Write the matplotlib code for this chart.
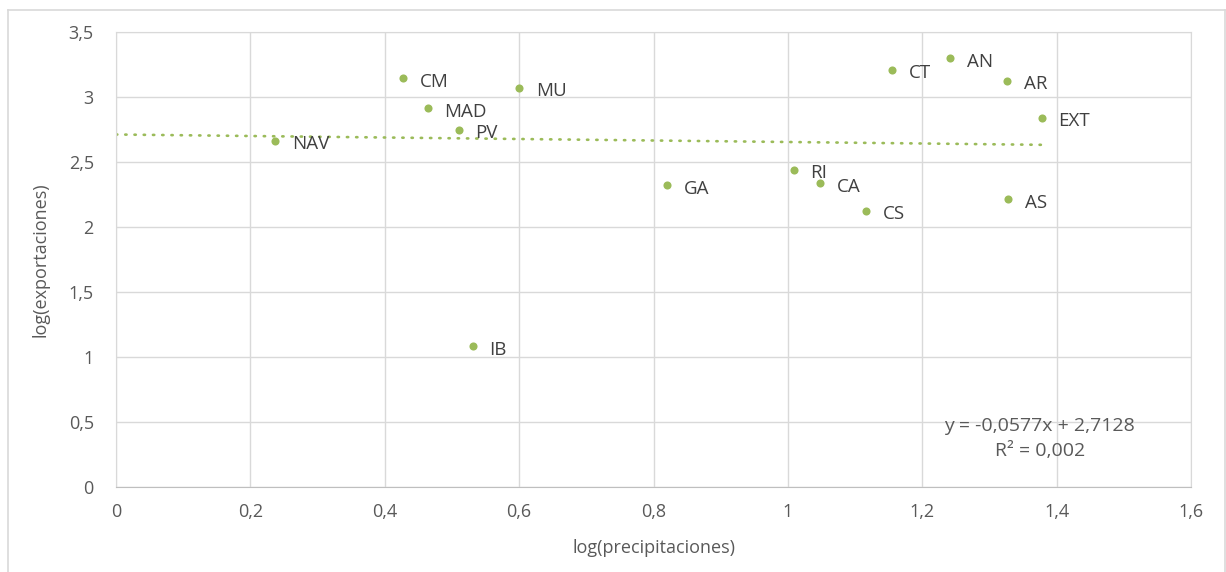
import matplotlib.pyplot as plt
from matplotlib.lines import Line2D
import numpy as np

regions = ['NAV', 'CM', 'MAD', 'PV', 'MU', 'IB', 'GA', 'RI', 'CA', 'CS',
           'CT', 'AN', 'AR', 'EXT', 'AS']
log_precip = [0.237, 0.427, 0.464, 0.510, 0.600, 0.531, 0.820, 1.009, 1.048, 1.116,
              1.155, 1.242, 1.326, 1.378, 1.328]
log_export = [2.665, 3.146, 2.915, 2.751, 3.072, 1.080, 2.321, 2.442, 2.336, 2.126,
              3.211, 3.300, 3.128, 2.842, 2.213]

slope, intercept, r2 = -0.0577, 2.7128, 0.002

xticks = np.arange(0, 1.61, 0.2)
yticks = np.arange(0, 3.51, 0.5)

green = '#9BBB59'
gray_text = '#595959'
grid_col = '#D9D9D9'

plt.rcParams['font.family'] = ['Open Sans', 'DejaVu Sans']

fig = plt.figure(figsize = (12.26, 5.72), dpi = 100)
ax = fig.add_axes([116 / 1226, 1 - 486.7 / 572, (1191 - 116) / 1226, (486.7 - 32.3) / 572])

# chart area border
for xs, ys in [([8 / 1226, 8 / 1226], [0, 1 - 10 / 572]),
               ([8 / 1226, 1225 / 1226], [1 - 10 / 572, 1 - 10 / 572]),
               ([1225 / 1226, 1225 / 1226], [0, 1 - 10 / 572])]:
    fig.add_artist(Line2D(xs, ys, color = grid_col, linewidth = 1.2, transform = fig.transFigure))

ax.scatter(log_precip, log_export, s = 34, color = green, zorder = 3, linewidths = 0)
for name, x, y in zip(regions, log_precip, log_export):
    ax.annotate(name, (x, y), xytext = (12, -2.5), textcoords = 'offset points',
                ha = 'left', va = 'center', fontsize = 13.5, color = '#404040')

xt = np.array([0, max(log_precip)])
ax.plot(xt, slope * xt + intercept, color = green, linewidth = 1.9,
        linestyle = (0, (0.5, 3.0)), dash_capstyle = 'round', zorder = 2)

ax.text(1.375, 0.47, f'y = {slope:.4f}x + {intercept:.4f}'.replace('.', ','),
        ha = 'center', va = 'center', fontsize = 14, color = gray_text)
ax.text(1.375, 0.275, f'R² = {r2:.3f}'.replace('.', ','),
        ha = 'center', va = 'center', fontsize = 14, color = gray_text)

ax.set_xlim(0, 1.6); ax.set_ylim(0, 3.5)
ax.set_xticks(xticks); ax.set_yticks(yticks)
ax.set_xticklabels([f'{v:g}'.replace('.', ',') for v in np.round(xticks, 1)])
ax.set_yticklabels([f'{v:g}'.replace('.', ',') for v in np.round(yticks, 1)])
ax.tick_params(length = 0, labelsize = 13, labelcolor = gray_text)
ax.tick_params(axis = 'x', pad = 12)
ax.tick_params(axis = 'y', pad = 16)
ax.grid(True, color = grid_col, linewidth = 1)
ax.set_axisbelow(True)
for side, sp in ax.spines.items():
    sp.set_color(grid_col)
ax.spines['bottom'].set_color('#BFBFBF')

ax.set_xlabel('log(precipitaciones)', fontsize = 13, color = gray_text, labelpad = 13)
ax.set_ylabel('log(exportaciones)', fontsize = 13, color = gray_text, labelpad = 14)

plt.savefig('out.png', dpi = 100, facecolor = 'white')
plt.close()
